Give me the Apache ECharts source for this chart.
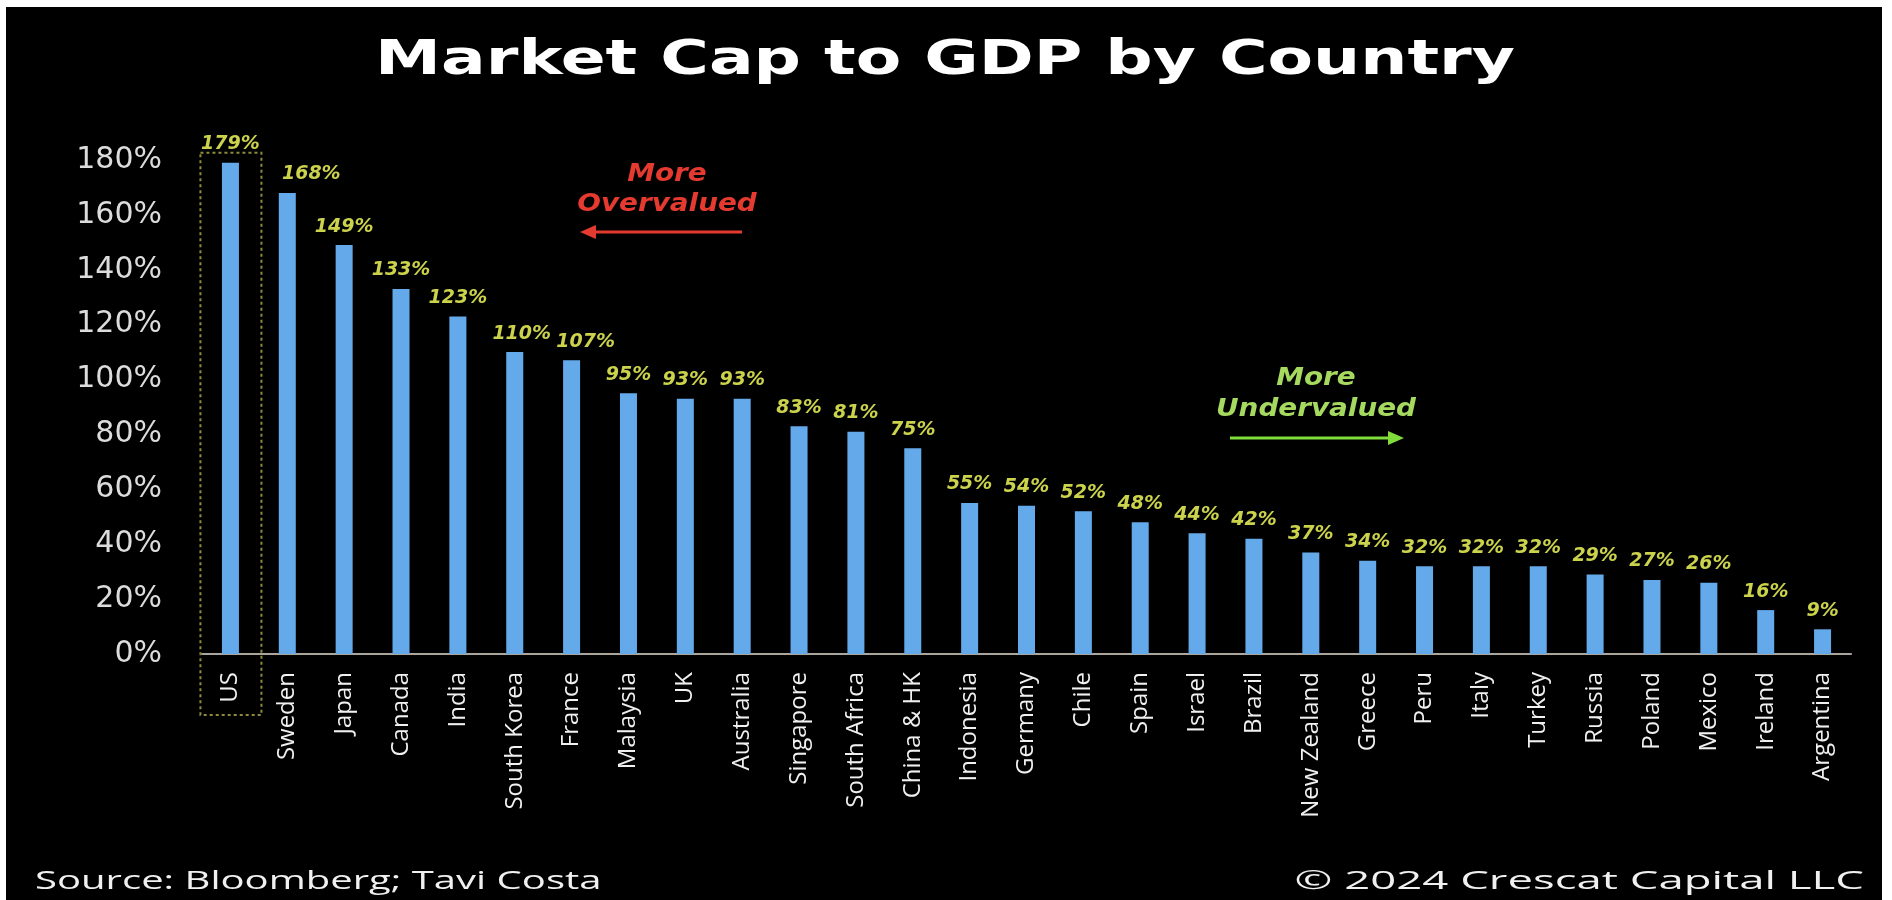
<!DOCTYPE html>
<html>
<head>
<meta charset="utf-8">
<script src="https://cdn.jsdelivr.net/npm/echarts@6/dist/echarts.min.js"></script>
<style>
  html, body { margin: 0; padding: 0; background: #ffffff; width: 1892px; height: 900px; overflow: hidden; }
  #chart { position: absolute; left: 6px; top: 7px; width: 1876px; height: 893px; }
</style>
</head>
<body>
<div id="chart"></div>
<script>
// Stock market capitalisation as a share of GDP, per country (%)
const countries = [
  'US', 'Sweden', 'Japan', 'Canada', 'India', 'South Korea', 'France', 'Malaysia',
  'UK', 'Australia', 'Singapore', 'South Africa', 'China & HK', 'Indonesia', 'Germany',
  'Chile', 'Spain', 'Israel', 'Brazil', 'New Zealand', 'Greece', 'Peru', 'Italy',
  'Turkey', 'Russia', 'Poland', 'Mexico', 'Ireland', 'Argentina'
];
const marketCapToGdp = [
  179, 168, 149, 133, 123, 110, 107, 95,
  93, 93, 83, 81, 75, 55, 54,
  52, 48, 44, 42, 37, 34, 32, 32,
  32, 29, 27, 26, 16, 9
];
const yAxisMin = 0;
const yAxisMax = 180;
const yAxisStep = 20;

const titleText = 'Market Cap to GDP by Country';
const sourceText = 'Source: Bloomberg; Tavi Costa';
const copyrightText = '\u00A9 2024 Crescat Capital LLC';

// a few value labels sit a little to the right of their bar
const labelNudge = { 'Sweden': 24, 'South Korea': 7, 'France': 14 };

const chart = echarts.init(document.getElementById('chart'), null, { renderer: 'canvas' });

const barData = marketCapToGdp.map((v, i) => {
  const dx = labelNudge[countries[i]];
  return dx ? { value: v, label: { offset: [dx, 0] } } : v;
});

chart.setOption({
  backgroundColor: '#000000',
  animation: false,
  grid: { left: 196, right: 31, top: 153, bottom: 246, containLabel: false },
  xAxis: {
    type: 'category',
    data: countries,
    axisLine: { show: true, lineStyle: { color: '#aaa69c', width: 2 } },
    axisTick: { show: false },
    axisLabel: {
      rotate: 90,
      interval: 0,
      margin: 18,
      color: '#f0f0f0',
      fontFamily: 'Open Sans',
      fontSize: 24
    },
    splitLine: { show: false }
  },
  yAxis: {
    type: 'value',
    min: yAxisMin,
    max: yAxisMax,
    interval: yAxisStep,
    axisLine: { show: false },
    axisTick: { show: false },
    splitLine: { show: false },
    axisLabel: {
      formatter: '{value}%',
      margin: 40,
      color: '#dcdcdc',
      fontFamily: 'DejaVu Sans',
      fontSize: 30
    }
  },
  series: [{
    type: 'bar',
    data: barData,
    barWidth: 17,
    itemStyle: { color: '#64aaeb' },
    label: {
      show: true,
      position: 'top',
      distance: 9,
      formatter: '{c}%',
      color: '#cbd24c',
      fontFamily: 'DejaVu Sans',
      fontStyle: 'italic',
      fontWeight: 'bold',
      fontSize: 19
    }
  }]
});

// dotted frame around the US column, placed from the axis scales
const usX = chart.convertToPixel({ xAxisIndex: 0 }, 'US');
const usTopY = chart.convertToPixel({ yAxisIndex: 0 }, marketCapToGdp[0]);
const baseY = chart.convertToPixel({ yAxisIndex: 0 }, 0);
const frameTop = usTopY - 10;
const frameBottom = baseY + 61;

const red = '#e53a2f';
const greenText = '#a6d95f';
const greenArrow = '#7fdc3a';

chart.setOption({
  graphic: [
    {
      type: 'text', x: 939, y: 55, scaleX: 1.38,
      style: {
        text: titleText, fill: '#ffffff', fontFamily: 'DejaVu Sans', fontWeight: 'bold',
        fontSize: 48, align: 'center', verticalAlign: 'middle'
      }
    },
    {
      type: 'rect',
      shape: { x: usX - 30, y: frameTop, width: 61, height: frameBottom - frameTop },
      style: { fill: 'none', stroke: '#8e8b3a', lineWidth: 2, lineDash: [3, 3] },
      z: 1
    },
    // "More Overvalued" with a left-pointing arrow
    {
      type: 'text', x: 661, y: 168, scaleX: 1.16,
      style: { text: 'More', fill: red, fontFamily: 'DejaVu Sans', fontWeight: 'bold', fontStyle: 'italic',
               fontSize: 24, align: 'center', verticalAlign: 'middle' }
    },
    {
      type: 'text', x: 661, y: 198, scaleX: 1.16,
      style: { text: 'Overvalued', fill: red, fontFamily: 'DejaVu Sans', fontWeight: 'bold', fontStyle: 'italic',
               fontSize: 24, align: 'center', verticalAlign: 'middle' }
    },
    {
      type: 'line', shape: { x1: 736, y1: 225, x2: 586, y2: 225 },
      style: { stroke: red, lineWidth: 3 }
    },
    {
      type: 'polygon', shape: { points: [[574, 225], [590, 218], [590, 232]] },
      style: { fill: red }
    },
    // "More Undervalued" with a right-pointing arrow
    {
      type: 'text', x: 1310, y: 372, scaleX: 1.16,
      style: { text: 'More', fill: greenText, fontFamily: 'DejaVu Sans', fontWeight: 'bold', fontStyle: 'italic',
               fontSize: 24, align: 'center', verticalAlign: 'middle' }
    },
    {
      type: 'text', x: 1310, y: 403, scaleX: 1.16,
      style: { text: 'Undervalued', fill: greenText, fontFamily: 'DejaVu Sans', fontWeight: 'bold', fontStyle: 'italic',
               fontSize: 24, align: 'center', verticalAlign: 'middle' }
    },
    {
      type: 'line', shape: { x1: 1224, y1: 431, x2: 1386, y2: 431 },
      style: { stroke: greenArrow, lineWidth: 3 }
    },
    {
      type: 'polygon', shape: { points: [[1398, 431], [1382, 424], [1382, 438]] },
      style: { fill: greenArrow }
    },
    // footer
    {
      type: 'text', x: 29, y: 875, scaleX: 1.54,
      style: { text: sourceText, fill: '#f0f0f0', fontFamily: 'Open Sans', fontSize: 26,
               align: 'left', verticalAlign: 'middle' }
    },
    {
      type: 'text', x: 1858, y: 875, scaleX: 1.75,
      style: { text: copyrightText, fill: '#f0f0f0', fontFamily: 'Open Sans', fontSize: 26,
               align: 'right', verticalAlign: 'middle' }
    }
  ]
});
</script>
</body>
</html>
